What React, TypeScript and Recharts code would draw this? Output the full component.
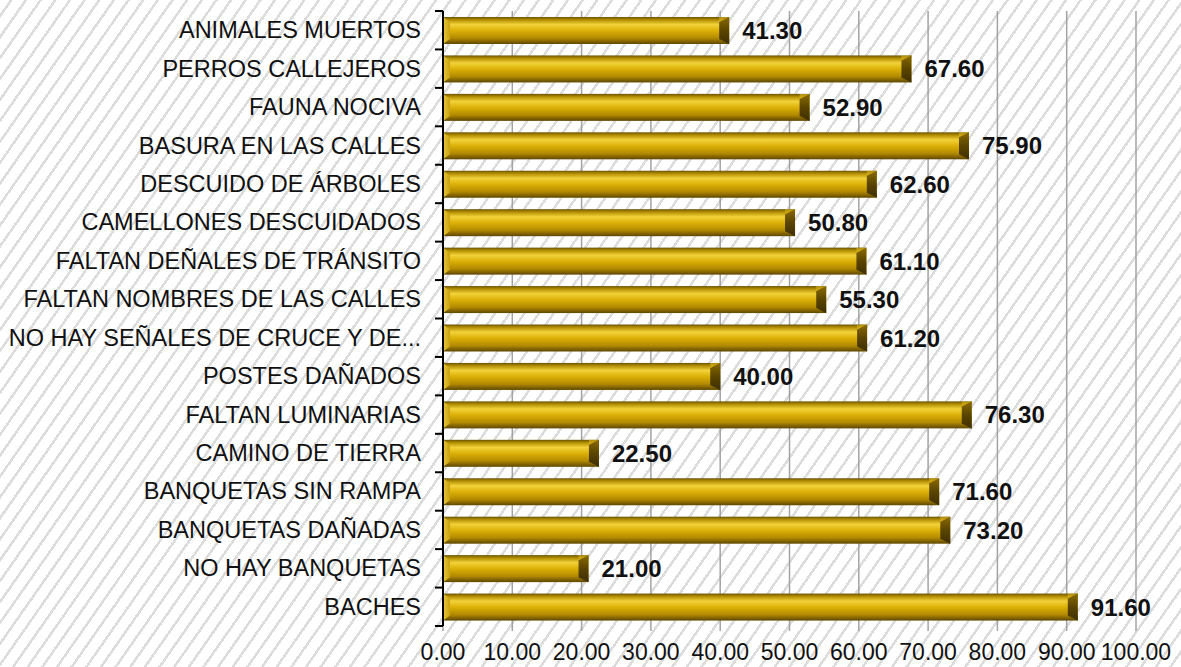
import { BarChart, Bar, XAxis, YAxis, CartesianGrid, LabelList } from 'recharts'

const categories = [
    'ANIMALES MUERTOS',
    'PERROS CALLEJEROS',
    'FAUNA NOCIVA',
    'BASURA EN LAS CALLES',
    'DESCUIDO DE ÁRBOLES',
    'CAMELLONES DESCUIDADOS',
    'FALTAN DEÑALES DE TRÁNSITO',
    'FALTAN NOMBRES DE LAS CALLES',
    'NO HAY SEÑALES DE CRUCE Y DE...',
    'POSTES DAÑADOS',
    'FALTAN LUMINARIAS',
    'CAMINO DE TIERRA',
    'BANQUETAS SIN RAMPA',
    'BANQUETAS DAÑADAS',
    'NO HAY BANQUETAS',
    'BACHES'
]

const values = [41.3, 67.6, 52.9, 75.9, 62.6, 50.8, 61.1, 55.3, 61.2, 40.0, 76.3, 22.5, 71.6, 73.2, 21.0, 91.6]

const xTicks = [0, 10, 20, 30, 40, 50, 60, 70, 80, 90, 100]

const data = categories.map((name, i) => ({ name, value: values[i] }))

const W = 1181
const H = 667
const MARGIN = { top: 11, right: 45, bottom: 0, left: 0 }
const Y_WIDTH = 443
const X_HEIGHT = 41
const AXIS_X = MARGIN.left + Y_WIDTH
const BAND = (H - MARGIN.top - MARGIN.bottom - X_HEIGHT) / categories.length
const FONT = '"Liberation Sans", Arial, sans-serif'

// gold 3d bar with bevelled ends
const GoldBar = (props: any) => {
    const { x, y, width, height } = props
    if (!width || width <= 0) return null
    const r = x + width
    return (
        <g>
            <rect x={x} y={y} width={width} height={height} fill="url(#goldBody)" />
            <polygon
                points={`${x},${y} ${x + 7},${y + 5} ${x + 7},${y + height - 5} ${x},${y + height}`}
                fill="url(#goldLeft)"
            />
            <polygon
                points={`${r - 10},${y + 5} ${r},${y} ${r},${y + height} ${r - 10},${y + height - 5}`}
                fill="url(#goldCap)"
            />
            <polygon points={`${r - 10},${y + 5} ${r},${y} ${r - 10},${y}`} fill="#d8b21c" opacity={0.6} />
        </g>
    )
}

// category label + tick marks at band boundaries
const CategoryTick = (props: any) => {
    const { y, payload, index } = props
    return (
        <g>
            <line x1={AXIS_X - 8} x2={AXIS_X} y1={y - BAND / 2} y2={y - BAND / 2} stroke="#000" strokeWidth={2} />
            {index === categories.length - 1 && (
                <line x1={AXIS_X - 8} x2={AXIS_X} y1={y + BAND / 2} y2={y + BAND / 2} stroke="#000" strokeWidth={2} />
            )}
            <text x={AXIS_X - 22} y={y} dy={8} textAnchor="end" fontSize={23.5} fill="#111" fontFamily={FONT}>
                {payload.value}
            </text>
        </g>
    )
}

export default function App() {
    return (
        <div
            style={{
                position: 'absolute',
                left: 0,
                top: 0,
                width: W,
                height: H,
                background: 'repeating-linear-gradient(125deg, #ffffff 0px, #ffffff 8px, #dcdcdc 8px, #dcdcdc 10.5px, #ffffff 10.5px, #ffffff 12px)'
            }}
        >
            <BarChart width={W} height={H} data={data} layout="vertical" margin={MARGIN} barSize={27}>
                <defs>
                    <linearGradient id="goldBody" x1="0" y1="0" x2="0" y2="1">
                        <stop offset="0%" stopColor="#6b5300" />
                        <stop offset="10%" stopColor="#b08c00" />
                        <stop offset="28%" stopColor="#f2d23a" />
                        <stop offset="50%" stopColor="#dcb108" />
                        <stop offset="78%" stopColor="#b38a00" />
                        <stop offset="100%" stopColor="#5e4700" />
                    </linearGradient>
                    <linearGradient id="goldLeft" x1="0" y1="0" x2="1" y2="0">
                        <stop offset="0%" stopColor="#e9c838" />
                        <stop offset="100%" stopColor="#c9a010" />
                    </linearGradient>
                    <linearGradient id="goldCap" x1="0" y1="0" x2="0" y2="1">
                        <stop offset="0%" stopColor="#8a6a00" />
                        <stop offset="50%" stopColor="#5a4400" />
                        <stop offset="100%" stopColor="#3e2f00" />
                    </linearGradient>
                </defs>
                <CartesianGrid horizontal={false} stroke="#a3a3a3" strokeWidth={1.5} />
                <XAxis
                    type="number"
                    domain={[0, 100]}
                    ticks={xTicks}
                    interval={0}
                    height={X_HEIGHT}
                    axisLine={false}
                    tickLine={{ stroke: '#a3a3a3', strokeWidth: 1.5 }}
                    tickSize={5}
                    tickMargin={13}
                    tickFormatter={(v: number) => v.toFixed(2)}
                    tick={{ fontSize: 23, fill: '#111', fontFamily: FONT }}
                />
                <YAxis
                    type="category"
                    dataKey="name"
                    width={Y_WIDTH}
                    interval={0}
                    axisLine={{ stroke: '#000', strokeWidth: 2 }}
                    tickLine={false}
                    tick={<CategoryTick />}
                />
                <Bar dataKey="value" shape={<GoldBar />} isAnimationActive={false}>
                    <LabelList
                        dataKey="value"
                        position="right"
                        offset={13}
                        formatter={(v: any) => Number(v).toFixed(2)}
                        style={{ fontSize: 24, fontWeight: 'bold', fill: '#111', fontFamily: FONT }}
                    />
                </Bar>
            </BarChart>
        </div>
    )
}
